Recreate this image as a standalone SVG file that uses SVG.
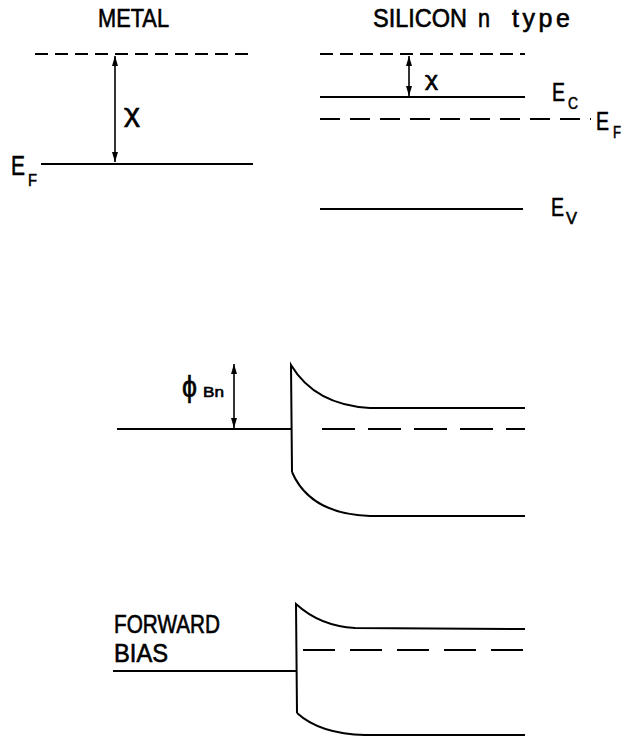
<svg xmlns="http://www.w3.org/2000/svg" width="627" height="738" viewBox="0 0 627 738">
<style>
.ln{stroke:#000;stroke-width:2;fill:none}
.d1{stroke-dasharray:13 7}
.d2{stroke-dasharray:20 10}
.d3{stroke-dasharray:33 13}
.t{font-family:"Liberation Sans",Arial,sans-serif;fill:#000;stroke:#000;stroke-width:0.6}
.big{font-size:25px}
.sub{font-size:17px}
.ar{stroke:#000;stroke-width:1.6;fill:none;marker-start:url(#ah);marker-end:url(#ah)}
</style>
<defs>
<marker id="ah" viewBox="0 0 10 6" refX="10" refY="3" markerWidth="10" markerHeight="6" markerUnits="userSpaceOnUse" orient="auto-start-reverse">
<path d="M0,0 L10,3 L0,6 Z" fill="#000"/>
</marker>
</defs>
<rect width="627" height="738" fill="#fff"/>

<g id="metal">
<text class="t big" x="98" y="27" textLength="71" lengthAdjust="spacingAndGlyphs">METAL</text>
<line class="ln d1" x1="35" y1="54" x2="253" y2="54"/>
<line class="ln" x1="41" y1="164" x2="253" y2="164"/>
<text class="t" x="11" y="175" font-size="28" textLength="14" lengthAdjust="spacingAndGlyphs">E</text>
<text class="t sub" x="28" y="186" textLength="9" lengthAdjust="spacingAndGlyphs">F</text>
<text class="t" x="124" y="122" font-size="25" textLength="16" lengthAdjust="spacingAndGlyphs">χ</text>
</g>

<g id="silicon">
<text class="t big" x="373" y="27" textLength="94" lengthAdjust="spacingAndGlyphs">SILICON</text>
<text class="t big" x="478" y="27" textLength="12" lengthAdjust="spacingAndGlyphs">n</text>
<text class="t" x="512" y="27" font-size="25" stroke-width="0.3" textLength="58" lengthAdjust="spacing">type</text>
<line class="ln d1" x1="320" y1="54" x2="525" y2="54"/>
<line class="ln" x1="320" y1="97" x2="525" y2="97"/>
<line class="ln d2" x1="320" y1="119" x2="591" y2="119"/>
<line class="ln" x1="320" y1="209" x2="523" y2="209"/>
<text class="t" x="425" y="86" font-size="20" textLength="13" lengthAdjust="spacingAndGlyphs">χ</text>
<text class="t big" x="552" y="101" textLength="13" lengthAdjust="spacingAndGlyphs">E</text>
<text class="t sub" x="568" y="109" textLength="10" lengthAdjust="spacingAndGlyphs">C</text>
<text class="t big" x="596" y="130" textLength="13" lengthAdjust="spacingAndGlyphs">E</text>
<text class="t sub" x="613" y="138" textLength="8" lengthAdjust="spacingAndGlyphs">F</text>
<text class="t big" x="551" y="216" textLength="13" lengthAdjust="spacingAndGlyphs">E</text>
<text class="t sub" x="566" y="224" textLength="11" lengthAdjust="spacingAndGlyphs">V</text>
</g>

<g id="equilibrium">
<line class="ln" x1="117" y1="429" x2="292" y2="429"/>
<path class="ln" d="M292,472 L291,365 Q315,405 370,408 L525,408"/>
<path class="ln" d="M292,472 Q310,514 370,516 L525,516"/>
<line class="ln d3" x1="322" y1="429" x2="525" y2="429"/>
<text class="t" x="182" y="397" font-size="30" textLength="15" lengthAdjust="spacingAndGlyphs">ϕ</text>
<text class="t" x="203" y="397" font-size="15" textLength="21" lengthAdjust="spacingAndGlyphs">Bn</text>
</g>

<g id="forward-bias">
<text class="t big" x="114" y="633" textLength="106" lengthAdjust="spacingAndGlyphs">FORWARD</text>
<text class="t big" x="114" y="662" textLength="54" lengthAdjust="spacingAndGlyphs">BIAS</text>
<line class="ln" x1="113" y1="671" x2="297" y2="671"/>
<path class="ln" d="M297,713 L296,604 Q320,626 355,628 L525,629"/>
<path class="ln" d="M297,713 Q320,734 365,735 L525,735"/>
<line class="ln d3" x1="303" y1="650" x2="525" y2="650" style="stroke-dasharray:32 15"/>
</g>

<g id="connectors">
<line class="ar" x1="115" y1="56" x2="115" y2="162"/>
<line class="ar" x1="409" y1="56" x2="409" y2="96"/>
<line class="ar" x1="234" y1="364" x2="234" y2="428"/>
</g>
</svg>
